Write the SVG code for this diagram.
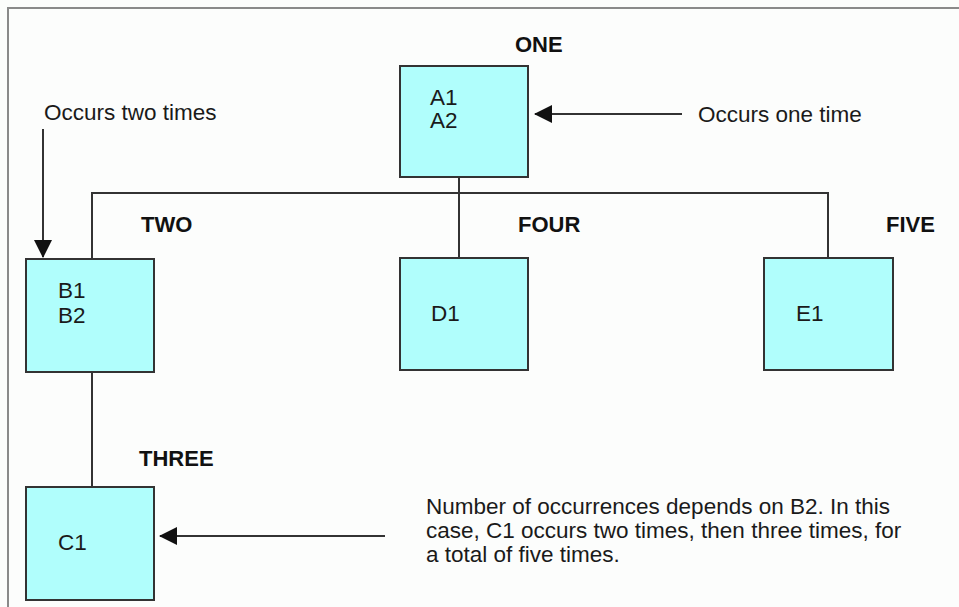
<svg xmlns="http://www.w3.org/2000/svg" width="959" height="607" viewBox="0 0 959 607">
  <style>
    .box { fill: #b0fefc; stroke: #333333; stroke-width: 2; }
    .line { fill: none; stroke: #333333; stroke-width: 2; }
    .txt { font-family: "Liberation Sans", Arial, sans-serif; font-size: 22.5px; fill: #1a1a1a; }
    .lbl { font-family: "Liberation Sans", Arial, sans-serif; font-size: 22px; font-weight: bold; fill: #111111; }
  </style>
  <defs>
    <marker id="arrow" viewBox="0 0 18 18" refX="17" refY="9" markerWidth="18" markerHeight="18" markerUnits="userSpaceOnUse" orient="auto">
      <path d="M0,0 L18,9 L0,18 Z" fill="#111111"/>
    </marker>
  </defs>
  <rect x="0" y="0" width="959" height="607" fill="#fcfdfc"/>
  <path d="M8,607 L8,8 L959,8" fill="none" stroke="#8a8a8a" stroke-width="2"/>

  <g id="connectors">
    <path class="line" d="M459,177 L459,193"/>
    <path class="line" d="M92,259 L92,193 L828,193 L828,258"/>
    <path class="line" d="M459,193 L459,258"/>
    <path class="line" d="M92,372 L92,487"/>
    <path class="line" d="M43,129 L43,257" marker-end="url(#arrow)"/>
    <path class="line" d="M682,114 L535,114" marker-end="url(#arrow)"/>
    <path class="line" d="M385,536 L160,536" marker-end="url(#arrow)"/>
  </g>

  <g id="node-one">
    <rect class="box" x="400" y="66" width="128" height="111"/>
    <text class="lbl" x="515" y="52">ONE</text>
    <text class="txt" x="430" y="105">A1</text>
    <text class="txt" x="430" y="128">A2</text>
  </g>
  <g id="node-two">
    <rect class="box" x="26" y="259" width="128" height="113"/>
    <text class="lbl" x="141" y="232">TWO</text>
    <text class="txt" x="58" y="298">B1</text>
    <text class="txt" x="58" y="323">B2</text>
  </g>
  <g id="node-four">
    <rect class="box" x="400" y="258" width="128" height="112"/>
    <text class="lbl" x="518" y="232">FOUR</text>
    <text class="txt" x="431" y="321">D1</text>
  </g>
  <g id="node-five">
    <rect class="box" x="764" y="258" width="129" height="112"/>
    <text class="lbl" x="886" y="232">FIVE</text>
    <text class="txt" x="796" y="321">E1</text>
  </g>
  <g id="node-three">
    <rect class="box" x="26" y="487" width="128" height="113"/>
    <text class="lbl" x="139" y="466">THREE</text>
    <text class="txt" x="58" y="550">C1</text>
  </g>

  <g id="notes">
    <text class="txt" x="44" y="120">Occurs two times</text>
    <text class="txt" x="698" y="122">Occurs one time</text>
    <text class="txt" x="426" y="514">Number of occurrences depends on B2. In this</text>
    <text class="txt" x="426" y="538">case, C1 occurs two times, then three times, for</text>
    <text class="txt" x="426" y="562">a total of five times.</text>
  </g>
</svg>
